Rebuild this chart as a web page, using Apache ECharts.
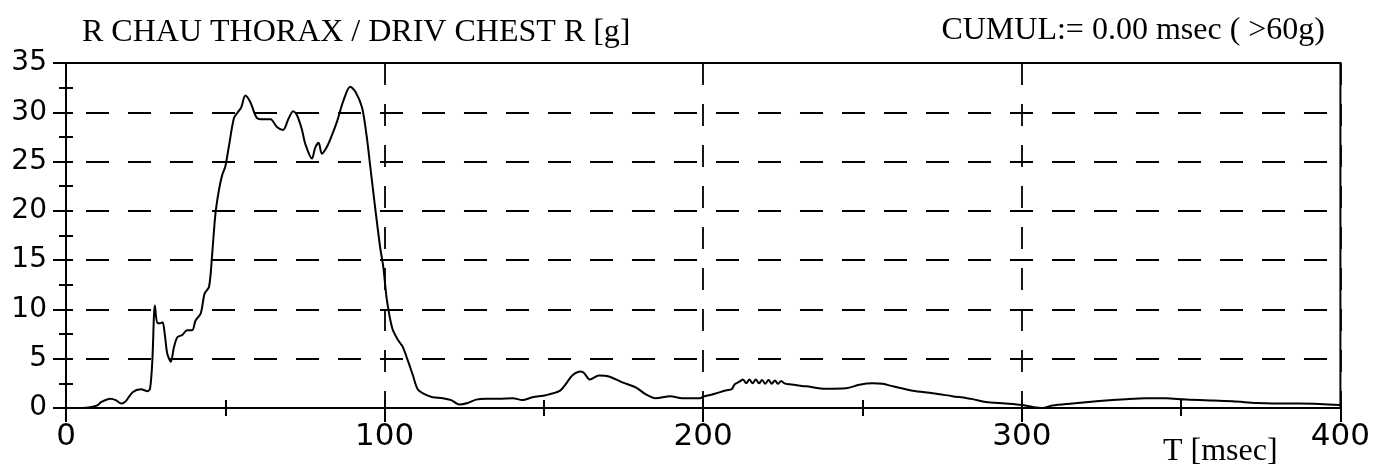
<!DOCTYPE html>
<html>
<head>
<meta charset="utf-8">
<script src="https://cdn.jsdelivr.net/npm/echarts@6/dist/echarts.min.js"></script>
<style>
  html, body { margin: 0; padding: 0; background: #fff; }
  #myChart { width: 1373px; height: 468px; }
</style>
</head>
<body>
<div id="myChart"></div>
<script>
// time axis [msec] and chest acceleration [g]
var timeMs = [0, 5, 8, 10, 11, 14, 15.6, 17.4, 18.8, 20.9, 23.5, 25.6, 26.4, 27.1, 27.9, 28.7, 29.5, 30.3, 31, 31.8, 32.9,
  33.9, 35, 36.5, 38, 39.6, 40.7, 42.3, 43.5, 44.9, 45.9, 46.9, 48, 49, 50, 51.1, 52.7, 53.9, 55, 56.3, 57.9,
  60, 62, 64.2, 66.2, 68.1, 69.9, 71.3, 72.5, 74, 75.1, 77.2, 78.2, 79.3, 80.3, 81.9, 83.5, 85, 87.1, 89.2,
  90.8, 92.9, 94.4, 95.5, 97, 98.6, 99.6, 100.7, 102.4, 104.2, 105.7, 107.3, 108.9, 110.4, 112.5, 115.1, 118.3,
  120.9, 123.5, 126.1, 128.7, 131.8, 136, 140.2, 143.3, 146.4, 150.6, 154.8, 156.8, 158.9, 161.6, 162.6, 164.4,
  167.3, 170.4, 174.6, 178.8, 181.9, 185, 189.7, 193.4, 199, 200, 203.1, 207.3, 208.9, 209.9, 211.5,
  212.5, 213.5, 214.5, 215.5, 216.5, 217.5, 218.5, 219.5, 220.5, 221.5, 222.5, 223.5, 224.5, 225.5, 227.1,
  232.3, 238.6, 244.9, 249, 253.2, 256.3, 259.5, 265.7, 272, 278.2, 284.5, 288.7, 294.9, 300, 303.4, 306.5,
  309.6, 315.9, 324.3, 332.7, 339, 345.3, 351.6, 360, 366.2, 373.6, 378.8, 387.2, 393.5, 400]
var accelG = [0, 0, 0.1, 0.3, 0.6, 0.95, 0.8, 0.45, 0.7, 1.6, 1.9, 1.7, 2.0, 4.8, 10.4, 8.6, 8.6, 8.7, 7.5, 5.5, 4.7,
  6.2, 7.2, 7.4, 7.9, 7.9, 8.9, 9.6, 11.6, 12.3, 15.7, 19.7, 22.1, 23.6, 24.5, 26.5, 29.4, 30.0, 30.5, 31.7, 31.0,
  29.4, 29.3, 29.3, 28.5, 28.2, 29.4, 30.1, 29.7, 28.3, 26.8, 25.3, 26.4, 26.9, 25.8, 26.5, 27.7, 29.0, 31.2, 32.6,
  32.1, 30.5, 27.5, 24.5, 20.4, 16.3, 14.3, 11.0, 8.1, 6.9, 6.2, 4.8, 3.3, 1.9, 1.4, 1.1, 1.0,
  0.8, 0.35, 0.5, 0.85, 0.95, 0.95, 1.0, 0.8, 1.1, 1.3, 1.7, 2.4, 3.3, 3.7, 3.55, 2.9,
  3.3, 3.2, 2.6, 2.1, 1.4, 1.0, 1.2, 1.0, 1.0, 1.15, 1.4, 1.8, 1.9, 2.4, 2.7,
  2.9, 2.5, 2.9, 2.5, 2.9, 2.5, 2.85, 2.45, 2.85, 2.45, 2.8, 2.45, 2.75, 2.5, 2.4,
  2.2, 1.95, 2.0, 2.35, 2.5, 2.45, 2.2, 1.75, 1.5, 1.2, 0.9, 0.6, 0.45, 0.3, 0.1, 0.0,
  0.25, 0.45, 0.7, 0.9, 1.0, 0.98, 0.85, 0.75, 0.68, 0.5, 0.45, 0.45, 0.4, 0.3]
var xTicks = [0, 100, 200, 300, 400]
var yTicks = [0, 5, 10, 15, 20, 25, 30, 35]

var chartTitle = 'R CHAU THORAX / DRIV CHEST R [g]'
var cumulText = 'CUMUL:= 0.00 msec ( >60g)'
var xName = 'T [msec]'

var myChart = echarts.init(document.getElementById('myChart'), null, { renderer: 'canvas' })

var serif = '"Liberation Serif", "Times New Roman", serif'
var sans = '"DejaVu Sans", Arial, sans-serif'
var dashed = { color: '#000', width: 1.8, type: [23, 19], dashOffset: 22 }

var seriesData = timeMs.map(function(t, i) {
  return [t, accelG[i]]
})

var option = {
  animation: false,
  backgroundColor: '#fff',
  title: [
    { text: chartTitle, left: 77, top: 12, textStyle: { fontFamily: serif, fontSize: 32, fontWeight: 'normal', color: '#000' } },
    { text: cumulText, right: 43, top: 10, textStyle: { fontFamily: serif, fontSize: 32, fontWeight: 'normal', color: '#000' } },
    { text: xName, left: 1158, top: 431, textStyle: { fontFamily: serif, fontSize: 32, fontWeight: 'normal', color: '#000' } }
  ],
  grid: {
    left: 66, right: 32, top: 63, bottom: 60,
    show: true, borderColor: '#000', borderWidth: 2, backgroundColor: 'transparent'
  },
  xAxis: [
    {
      type: 'value',
      min: xTicks[0],
      max: xTicks[xTicks.length - 1],
      interval: 100,
      axisLine: { lineStyle: { color: '#000', width: 2 } },
      axisTick: { length: 14, lineStyle: { color: '#000', width: 2 } },
      minorTick: { show: true, splitNumber: 2, length: 8, lineStyle: { color: '#000', width: 2 } },
      axisLabel: { margin: 13, fontFamily: sans, fontSize: 31, color: '#000' },
      splitLine: { show: true, lineStyle: { color: '#000', width: 1.8, type: [22, 19] } }
    },
    {
      // inner half of the crossing ticks
      type: 'value', min: 0, max: 400, interval: 50, position: 'bottom',
      axisLine: { show: false },
      axisTick: { inside: true, length: 8, lineStyle: { color: '#000', width: 2 } },
      axisLabel: { show: false },
      splitLine: { show: false }
    }
  ],
  yAxis: [
    {
      type: 'value',
      min: yTicks[0],
      max: yTicks[yTicks.length - 1],
      interval: 5,
      axisLine: { show: true, lineStyle: { color: '#000', width: 2 } },
      axisTick: { show: true, length: 13, lineStyle: { color: '#000', width: 2 } },
      minorTick: { show: true, splitNumber: 2, length: 7, lineStyle: { color: '#000', width: 2 } },
      axisLabel: { margin: 19, fontFamily: sans, fontSize: 28, color: '#000' },
      splitLine: { show: true, lineStyle: dashed }
    },
    {
      type: 'value', min: 0, max: 35, interval: 2.5, position: 'left',
      axisLine: { show: false },
      axisTick: { show: true, inside: true, length: 7, lineStyle: { color: '#000', width: 2 } },
      axisLabel: { show: false },
      splitLine: { show: false }
    }
  ],
  series: [
    {
      type: 'line',
      data: seriesData,
      xAxisIndex: 0,
      yAxisIndex: 0,
      showSymbol: false,
      smooth: 0.3,
      lineStyle: { color: '#000', width: 2 },
      z: 5
    }
  ]
}

myChart.setOption(option)
</script>
</body>
</html>
